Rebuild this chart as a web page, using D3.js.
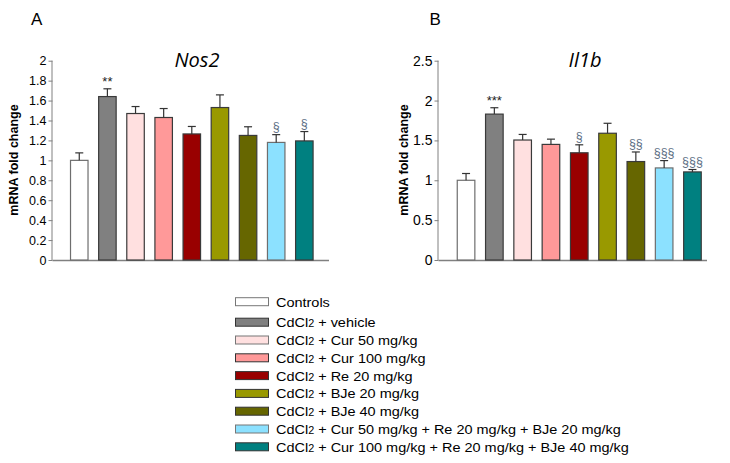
<!DOCTYPE html>
<html>
<head>
<meta charset="utf-8">
<script src="https://cdn.jsdelivr.net/npm/d3@7"></script>
<style>
  html, body { margin: 0; padding: 0; background: #fff; }
  svg { display: block; }
</style>
</head>
<body>
<svg id="chart" width="730" height="463"></svg>
<script>
// ---------------- data ----------------
const groups = ["Controls", "vehicle", "Cur50", "Cur100", "Re20", "BJe20", "BJe40", "Combo1", "Combo2"];
const legendLabels = [
  "Controls",
  "CdCl2 + vehicle",
  "CdCl2 + Cur 50 mg/kg",
  "CdCl2 + Cur 100 mg/kg",
  "CdCl2 + Re 20 mg/kg",
  "CdCl2 + BJe 20 mg/kg",
  "CdCl2 + BJe 40 mg/kg",
  "CdCl2 + Cur 50 mg/kg + Re 20 mg/kg + BJe 20 mg/kg",
  "CdCl2 + Cur 100 mg/kg + Re 20 mg/kg + BJe 40 mg/kg"
];
const colors = ["#ffffff", "#808080", "#ffe0e0", "#ff9999", "#990000", "#999900", "#666600", "#8ce1ff", "#008080"];

const nos2Values = [1.00, 1.64, 1.47, 1.43, 1.265, 1.53, 1.25, 1.18, 1.195];
const nos2Errors = [0.075, 0.078, 0.07, 0.09, 0.075, 0.127, 0.087, 0.078, 0.094];
const nos2Marks  = ["", "**", "", "", "", "", "", "§", "§"];
const nos2Ticks  = [0, 0.2, 0.4, 0.6, 0.8, 1, 1.2, 1.4, 1.6, 1.8, 2];

const il1bValues = [1.00, 1.83, 1.505, 1.45, 1.345, 1.59, 1.235, 1.155, 1.105];
const il1bErrors = [0.085, 0.08, 0.07, 0.066, 0.1, 0.125, 0.12, 0.092, 0.03];
const il1bMarks  = ["", "***", "", "", "§", "", "§§", "§§§", "§§§"];
const il1bTicks  = [0, 0.5, 1, 1.5, 2, 2.5];

// ---------------- drawing ----------------
const svg = d3.select("#chart");
const axisColor = "#808080";
const sans = "Arial, 'Liberation Sans', sans-serif";

function panel(cfg) {
  const g = svg.append("g");
  const y = d3.scaleLinear().domain([0, cfg.max]).range([260, 60.7]);
  const x = d3.scaleBand().domain(groups).range(cfg.bandRange)
    .paddingInner(0.378).paddingOuter(0.189);

  // y axis
  const yAxis = d3.axisLeft(y).tickValues(cfg.ticks).tickSize(4).tickPadding(2)
    .tickFormat(d => String(d));
  const ag = g.append("g").attr("transform", `translate(${cfg.axisX},0)`).call(yAxis);
  ag.select(".domain").attr("stroke", axisColor).attr("d", `M-0.5,${y(0)}V${y(cfg.max)}`);
  ag.selectAll(".tick line").attr("stroke", axisColor);
  ag.selectAll(".tick text").attr("font-family", sans)
    .attr("font-size", cfg.tickFont).attr("fill", "#000");

  // x baseline
  g.append("line").attr("x1", cfg.axisX).attr("x2", cfg.baseEnd)
    .attr("y1", y(0) + 0.5).attr("y2", y(0) + 0.5)
    .attr("stroke", axisColor).attr("stroke-width", 1.5);

  // bars
  g.selectAll("rect.bar").data(groups).join("rect").attr("class", "bar")
    .attr("x", d => x(d) + 0.5)
    .attr("y", (d, i) => y(cfg.values[i]))
    .attr("width", x.bandwidth())
    .attr("height", (d, i) => y(0) - y(cfg.values[i]))
    .attr("fill", (d, i) => colors[i])
    .attr("stroke", (d, i) => i === 0 || i === 7 ? "#6e6e6e" : "#3a3a3a")
    .attr("stroke-width", 1.2);

  // error bars
  const eb = g.selectAll("g.err").data(groups).join("g").attr("class", "err");
  eb.append("line")
    .attr("x1", d => x(d) + x.bandwidth() / 2 + 0.5).attr("x2", d => x(d) + x.bandwidth() / 2 + 0.5)
    .attr("y1", (d, i) => y(cfg.values[i])).attr("y2", (d, i) => y(cfg.values[i] + cfg.errors[i]))
    .attr("stroke", "#333").attr("stroke-width", 1.2);
  eb.append("line")
    .attr("x1", d => x(d) + x.bandwidth() / 2 - 3.5).attr("x2", d => x(d) + x.bandwidth() / 2 + 4.5)
    .attr("y1", (d, i) => y(cfg.values[i] + cfg.errors[i])).attr("y2", (d, i) => y(cfg.values[i] + cfg.errors[i]))
    .attr("stroke", "#333").attr("stroke-width", 1.2);

  // significance marks
  g.selectAll("text.mark").data(groups).join("text").attr("class", "mark")
    .attr("x", d => x(d) + x.bandwidth() / 2 + 0.5)
    .attr("y", (d, i) => y(cfg.values[i] + cfg.errors[i]) - (cfg.marks[i].startsWith("*") ? 3 : 4))
    .attr("text-anchor", "middle")
    .attr("font-family", sans)
    .attr("font-size", (d, i) => cfg.marks[i].startsWith("*") ? 13 : 12.5)
    .attr("fill", (d, i) => cfg.marks[i].startsWith("*") ? "#222" : "#5d6f84")
    .text((d, i) => cfg.marks[i]);

  // y label
  g.append("text")
    .attr("transform", `translate(${cfg.labelX},160) rotate(-90)`)
    .attr("text-anchor", "middle").attr("dominant-baseline", "central")
    .attr("font-family", sans)
    .attr("font-weight", "bold").attr("font-size", 12.5)
    .text("mRNA fold change");

  // title
  g.append("text").attr("x", cfg.titleX).attr("y", 67)
    .attr("text-anchor", "middle")
    .attr("font-family", "'Open Sans', sans-serif").attr("font-style", "italic")
    .attr("font-size", 20).text(cfg.title);

  // panel letter
  g.append("text").attr("x", cfg.letterX).attr("y", 25)
    .attr("font-family", sans)
    .attr("font-size", 17).text(cfg.letter);
}

panel({ max: 2, ticks: nos2Ticks, values: nos2Values, errors: nos2Errors, marks: nos2Marks,
  axisX: 52.5, baseEnd: 329, bandRange: [64.7, 317.9], labelX: 14, title: "Nos2", titleX: 197,
  letter: "A", letterX: 31, tickFont: 12.5 });
panel({ max: 2.5, ticks: il1bTicks, values: il1bValues, errors: il1bErrors, marks: il1bMarks,
  axisX: 438.5, baseEnd: 707, bandRange: [451.4, 706.1], labelX: 404, title: "Il1b", titleX: 585,
  letter: "B", letterX: 429.5, tickFont: 14 });

// ---------------- legend ----------------
const legend = svg.append("g");
const rowY = i => i === 0 ? 301.7 : 322.2 + (i - 1) * 17.8;
const rows = legend.selectAll("g").data(legendLabels).join("g")
  .attr("transform", (d, i) => `translate(0,${rowY(i)})`);
rows.append("rect").attr("x", 235.5).attr("y", -4).attr("width", 33).attr("height", 8)
  .attr("fill", (d, i) => colors[i])
  .attr("stroke", (d, i) => i === 0 || i === 2 || i === 7 ? "#777" : "#333").attr("stroke-width", 1);
const lt = rows.append("text")
  .attr("transform", "translate(276,5) scale(1.08,1)")
  .attr("font-family", sans).attr("font-size", 13.4).attr("fill", "#000");
lt.each(function(d) {
  const t = d3.select(this);
  if (d.startsWith("CdCl2")) {
    t.append("tspan").text("CdCl");
    t.append("tspan").attr("font-size", 10).text("2");
    t.append("tspan").text(d.slice(5));
  } else {
    t.text(d);
  }
});
</script>
</body>
</html>
